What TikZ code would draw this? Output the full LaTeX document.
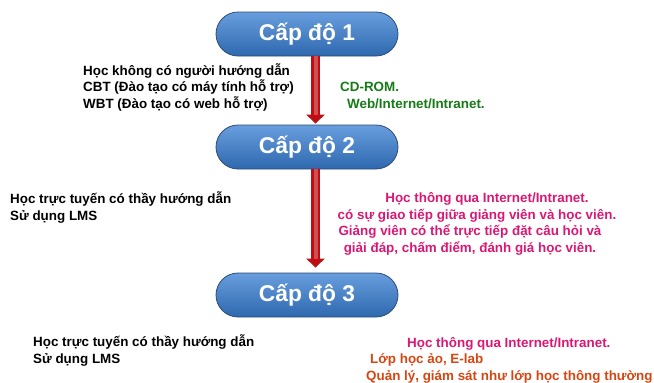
\documentclass[tikz,border=0pt]{standalone}
\usepackage{fontspec}
\setmainfont{Liberation Sans}
\usetikzlibrary{arrows.meta,calc}
\definecolor{pillTop}{RGB}{104,158,222}
\definecolor{pillMid}{RGB}{72,132,204}
\definecolor{pillBot}{RGB}{46,104,174}
\definecolor{pillLine}{RGB}{44,76,118}
\definecolor{arrRed}{RGB}{190,14,20}
\definecolor{arrLight}{RGB}{210,78,82}
\definecolor{txtGreen}{RGB}{22,122,22}
\definecolor{txtPink}{RGB}{218,24,116}
\definecolor{txtOrange}{RGB}{214,70,18}

\begin{document}
\begin{tikzpicture}[x=1pt, y=-1pt,
	level/.style={rectangle, rounded corners=22pt, minimum width=182pt, minimum height=44pt, top color=pillTop, middle color=pillMid, bottom color=pillBot, draw=pillLine, line width=0.8pt, text=white, font=\fontsize{22.8}{26}\selectfont\bfseries},
	note/.style={inner sep=0pt, anchor=base west, align=left, font=\fontsize{13.4}{16.5}\selectfont\bfseries},
	flow/.style={line width=9pt, arrRed, -{Triangle[width=18pt,length=9pt]}},
	flowcore/.style={line width=4pt, arrLight, shorten >=9pt}]
	\useasboundingbox (0,0) rectangle (654,383);
	
	\node[level] (lvl1) at (307,34) {Cấp độ 1};
	\node[level] (lvl2) at (307,147) {Cấp độ 2};
	\node[level] (lvl3) at (307,295) {Cấp độ 3};
	
	\draw[flow] ($(lvl1.south)+(8.5,0)$) -- ($(lvl2.north)+(8.5,-1)$);
	\draw[flowcore] ($(lvl1.south)+(8.5,0)$) -- ($(lvl2.north)+(8.5,-1)$);
	\draw[flow] ($(lvl2.south)+(8.5,0)$) -- ($(lvl3.north)+(8.5,-5)$);
	\draw[flowcore] ($(lvl2.south)+(8.5,0)$) -- ($(lvl3.north)+(8.5,-5)$);
	
	% anchors sit on the last line
	\node[note] (selfstudy) at (83,108) {Học không có người hướng dẫn\\CBT (Đào tạo có máy tính hỗ trợ)\\WBT (Đào tạo có web hỗ trợ)};
	\node[note, text=txtGreen] (media) at (340,108) {CD-ROM.\\\hspace*{7pt}Web/Internet/Intranet.};
	
	\node[note] (guided2) at (10,220) {Học trực tuyến có thầy hướng dẫn\\Sử dụng LMS};
	\node[note, anchor=base, align=center, text=txtPink] (interact) at (470,252) {\hspace*{34pt}Học thông qua Internet/Intranet.\\\hspace*{14pt}có sự giao tiếp giữa giảng viên và học viên.\\Giảng viên có thể trực tiếp đặt câu hỏi và\\giải đáp, chấm điểm, đánh giá học viên.};
	
	\node[note] (guided3) at (33,363) {Học trực tuyến có thầy hướng dẫn\\Sử dụng LMS};
	\node[note, text=txtOrange] (vclass) at (366,380) {\hspace*{41pt}\textcolor{txtPink}{Học thông qua Internet/Intranet.}\\\hspace*{4pt}Lớp học ảo, E-lab\\Quản lý, giám sát như lớp học thông thường};
\end{tikzpicture}
\end{document}
